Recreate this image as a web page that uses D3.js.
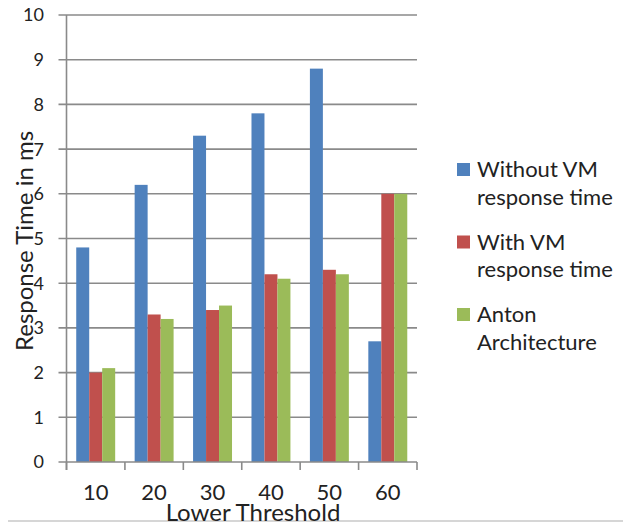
<!DOCTYPE html>
<html>
<head>
<meta charset="utf-8">
<script src="https://cdn.jsdelivr.net/npm/d3@7"></script>
<style>
  html, body { margin: 0; padding: 0; background: #fff; }
  svg { display: block; font-family: Lato, "Open Sans", sans-serif; }
</style>
</head>
<body>
<svg id="chart" width="632" height="526"></svg>
<script>
// Response time per lower threshold, three configurations
const thresholds = ["10", "20", "30", "40", "50", "60"];
const seriesNames = ["Without VM response time", "With VM response time", "Anton Architecture"];
const withoutVM = [4.8, 6.2, 7.3, 7.8, 8.8, 2.7];
const withVM = [2.0, 3.3, 3.4, 4.2, 4.3, 6.0];
const anton = [2.1, 3.2, 3.5, 4.1, 4.2, 6.0];
const yTicks = [0, 1, 2, 3, 4, 5, 6, 7, 8, 9, 10];
const legendLines = [["Without VM", "response time"], ["With VM", "response time"], ["Anton", "Architecture"]];
const colors = ["#4F81BD", "#C0504D", "#9BBB59"];

const seriesValues = [withoutVM, withVM, anton];

const svg = d3.select("#chart");
const plot = { left: 66.5, right: 417, top: 15, bottom: 462 };

const x0 = d3.scaleBand()
  .domain(thresholds)
  .range([plot.left, plot.right])
  .paddingInner(1 / 3)
  .paddingOuter(1 / 6);

const x1 = d3.scaleBand()
  .domain(d3.range(seriesNames.length))
  .range([0, x0.bandwidth()]);

const y = d3.scaleLinear().domain([0, 10]).range([plot.bottom, plot.top]);

const gridColor = "#8a8a8a";

// horizontal gridlines with tick stubs left of the axis
svg.append("g")
  .selectAll("line")
  .data(yTicks.filter(d => d > 0))
  .join("line")
  .attr("x1", plot.left - 8)
  .attr("x2", plot.right)
  .attr("y1", d => y(d))
  .attr("y2", d => y(d))
  .attr("stroke", gridColor)
  .attr("stroke-width", 1.6);

// bars
const groups = svg.append("g")
  .selectAll("g")
  .data(thresholds)
  .join("g")
  .attr("transform", d => `translate(${x0(d)},0)`);

groups.selectAll("rect")
  .data((d, i) => seriesValues.map((vals, s) => ({ s, v: vals[i] })))
  .join("rect")
  .attr("x", d => x1(d.s))
  .attr("width", x1.bandwidth())
  .attr("y", d => y(d.v))
  .attr("height", d => y(0) - y(d.v))
  .attr("fill", d => colors[d.s]);

// y axis line and zero stub
svg.append("line")
  .attr("x1", plot.left).attr("x2", plot.left)
  .attr("y1", plot.top).attr("y2", plot.bottom + 8)
  .attr("stroke", gridColor).attr("stroke-width", 1.6);
svg.append("line")
  .attr("x1", plot.left - 8).attr("x2", plot.right)
  .attr("y1", plot.bottom).attr("y2", plot.bottom)
  .attr("stroke", gridColor).attr("stroke-width", 1.6);

// category boundary ticks on the x axis
const step = x0.step();
svg.append("g")
  .selectAll("line")
  .data(d3.range(thresholds.length + 1))
  .join("line")
  .attr("x1", i => plot.left + i * step)
  .attr("x2", i => plot.left + i * step)
  .attr("y1", plot.bottom)
  .attr("y2", plot.bottom + 8)
  .attr("stroke", gridColor)
  .attr("stroke-width", 1.6);

// y tick labels
svg.append("g")
  .selectAll("text")
  .data(yTicks)
  .join("text")
  .attr("x", 44)
  .attr("y", d => y(d))
  .attr("dy", "0.36em")
  .attr("text-anchor", "end")
  .attr("font-size", 18)
  .attr("fill", "#222")
  .text(d => d);

// x tick labels
svg.append("g")
  .selectAll("text")
  .data(thresholds)
  .join("text")
  .attr("x", d => x0(d) + x0.bandwidth() / 2)
  .attr("y", 500)
  .attr("text-anchor", "middle")
  .attr("font-size", 22)
  .attr("fill", "#222")
  .text(d => d);

// frame rule at the foot of the chart
svg.append("line")
  .attr("x1", 8).attr("x2", 623)
  .attr("y1", 521).attr("y2", 521)
  .attr("stroke", "#c8c8c8").attr("stroke-width", 1.5);

// axis titles
svg.append("text")
  .attr("x", 253)
  .attr("y", 521)
  .attr("text-anchor", "middle")
  .attr("font-size", 24)
  .attr("fill", "#222")
  .text("Lower Threshold");

svg.append("text")
  .attr("transform", "translate(33,241) rotate(-90)")
  .attr("text-anchor", "middle")
  .attr("font-size", 24)
  .attr("fill", "#222")
  .text("Response Time in ms");

// legend
const legend = svg.append("g")
  .selectAll("g")
  .data(seriesNames)
  .join("g")
  .attr("transform", (d, i) => `translate(457,${177 + i * 72.5})`);

legend.append("rect")
  .attr("x", 0).attr("y", -14)
  .attr("width", 13).attr("height", 13)
  .attr("fill", (d, i) => colors[i]);

legend.each(function (d, i) {
  d3.select(this).selectAll("text")
    .data(legendLines[i])
    .join("text")
    .attr("x", 20)
    .attr("y", (t, j) => j * 27.5)
    .attr("font-size", 22)
    .attr("fill", "#222")
    .text(t => t);
});
</script>
</body>
</html>
